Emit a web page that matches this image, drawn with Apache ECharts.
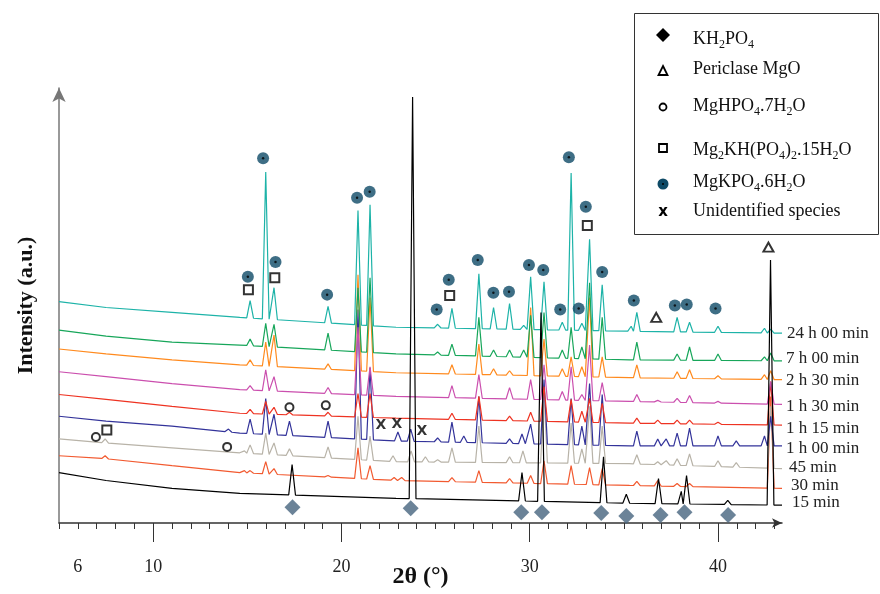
<!DOCTYPE html>
<html>
<head>
<meta charset="utf-8">
<script src="https://cdn.jsdelivr.net/npm/echarts@6/dist/echarts.min.js"></script>
<style>
	html, body { margin: 0; padding: 0; background: #fff; }
	#main { width: 880px; height: 594px; }
</style>
</head>
<body>
<div id="main"></div>
<script>
// sample names, top pattern first
var sampleNames = ['24 h 00 min', '7 h 00 min', '2 h 30 min', '1 h 30 min', '1 h 15 min', '1 h 00 min', '45 min', '30 min', '15 min'];

// baselines [2theta, intensity a.u.]
var base24h = [[5, 224], [7.5, 218], [11, 213], [14.6, 208], [22.9, 198], [35.3, 194], [43.4, 192]];
var base7h = [[5, 195], [7.5, 189], [11, 183], [14.6, 180], [22.9, 171], [35.3, 165], [43.4, 164]];
var base2h30 = [[5, 176], [7.5, 171], [11, 165], [14.6, 160], [22.9, 152], [35.3, 147], [43.4, 145]];
var base1h30 = [[5, 153], [7.5, 148], [11, 141], [14.6, 135], [22.9, 128], [35.3, 123], [43.4, 120]];
var base1h15 = [[5, 130], [7.5, 125], [11, 118], [14.6, 111], [22.9, 106], [35.3, 101], [43.4, 99]];
var base1h00 = [[5, 108], [7.5, 103], [11, 98], [14.6, 91], [22.9, 83], [35.3, 78], [43.4, 78]];
var base45 = [[5, 85], [7.5, 81], [11, 76], [14.6, 71], [22.9, 62], [35.3, 60], [43.4, 55]];
var base30 = [[5, 68], [7.5, 65], [11, 58], [14.6, 51], [22.9, 43], [35.3, 38], [43.4, 35]];
var base15 = [[5, 51], [7.5, 43], [11, 35], [14.6, 30], [22.9, 25], [35.3, 20], [43.4, 18]];

// peak tops [2theta, intensity a.u.]
var peaks24h = [[15.15, 225], [15.98, 355], [16.42, 238], [19.29, 219], [20.88, 316], [21.52, 322], [25.11, 201], [25.87, 217],
	[27.3, 252], [28.08, 218], [28.93, 222], [29.68, 200], [30.05, 249], [30.76, 244], [31.73, 203], [32.2, 354], [32.77, 202],
	[33.18, 287], [33.85, 241], [35.39, 199], [35.69, 213], [37.83, 208], [38.49, 203], [40.0, 199], [42.47, 197], [42.8, 196]];
var peaks7h = [[15.15, 186], [15.98, 202], [16.42, 201], [19.29, 192], [20.88, 238], [21.52, 248], [25.11, 173], [25.87, 181],
	[27.3, 208], [28.08, 175], [28.93, 175], [29.68, 175], [30.05, 210], [30.76, 213], [31.73, 175], [32.2, 198], [32.77, 178],
	[33.18, 243], [33.85, 208], [35.69, 183], [37.83, 171], [38.49, 178], [40.0, 171], [42.47, 168], [42.8, 172]];
var peaks2h30 = [[15.15, 165], [15.98, 183], [16.42, 190], [19.29, 161], [20.88, 251], [21.52, 228], [25.87, 160], [27.3, 181],
	[28.08, 156], [28.93, 154], [30.05, 218], [30.76, 186], [31.73, 156], [32.2, 168], [32.77, 158], [33.18, 228], [33.85, 168],
	[35.69, 160], [37.83, 153], [38.49, 155], [40.0, 149], [42.47, 150], [42.8, 154]];
var peaks1h30 = [[15.15, 139], [15.98, 155], [16.42, 148], [19.29, 137], [20.88, 198], [21.52, 158], [25.87, 139], [27.3, 150],
	[28.93, 137], [30.05, 145], [30.76, 160], [31.73, 133], [32.2, 158], [32.77, 130], [33.18, 180], [33.85, 142], [35.69, 130],
	[36.8, 124], [37.83, 126], [38.49, 129], [40.0, 123], [42.8, 143]];
var peaks1h15 = [[15.15, 115], [15.98, 123], [16.42, 117], [17.24, 112], [19.29, 112], [20.88, 131], [21.52, 131], [25.87, 111],
	[27.3, 128], [28.93, 108], [30.05, 112], [30.76, 138], [32.2, 125], [32.77, 113], [33.18, 126], [33.85, 121], [35.69, 106],
	[36.8, 104], [37.83, 104], [38.49, 104], [40.0, 102], [42.8, 143]];
var peaks1h00 = [[14.0, 95], [15.15, 105], [15.98, 126], [16.42, 110], [17.24, 103], [19.29, 103], [20.88, 216], [21.52, 157],
	[23.0, 92], [23.68, 95], [25.11, 86], [25.87, 102], [26.5, 88], [27.3, 128], [28.93, 85], [29.59, 90], [30.05, 100],
	[30.76, 145], [32.2, 126], [32.77, 98], [33.18, 141], [33.85, 130], [35.69, 93], [36.8, 85], [37.25, 85], [37.83, 91],
	[38.49, 96], [40.0, 88], [40.97, 83], [42.47, 88], [42.8, 108]];
var peaks45 = [[7.45, 85], [14.85, 73], [15.15, 79], [15.98, 91], [16.42, 81], [17.24, 75], [19.29, 77], [20.88, 108], [21.52, 88],
	[22.74, 68], [23.7, 73], [24.46, 67], [25.11, 64], [25.87, 76], [27.3, 98], [28.93, 67], [29.64, 73], [30.76, 131], [32.2, 101],
	[32.77, 75], [33.18, 118], [33.85, 98], [35.69, 69], [36.8, 62], [37.25, 63], [37.83, 65], [38.49, 70], [40.0, 63], [40.97, 61],
	[42.8, 118]];
var peaks30 = [[7.45, 68], [14.85, 53], [15.15, 53], [15.98, 62], [16.42, 55], [19.29, 48], [20.88, 76], [21.52, 58], [22.8, 46],
	[23.2, 46], [25.87, 46], [27.3, 53], [28.93, 45], [30.05, 48], [30.76, 63], [32.2, 58], [33.18, 56], [33.85, 55], [35.69, 42],
	[36.8, 43], [37.83, 40], [38.49, 40], [42.8, 128]];
var peaks15 = [[17.38, 59], [23.78, 431], [29.59, 51], [30.6, 213], [33.92, 67], [35.13, 29], [36.84, 45], [38.05, 32],
	[38.33, 48], [40.52, 23], [42.79, 266]];

// phase markers [2theta, intensity a.u.]
var markKH2PO4 = [[17.4, 16], [23.68, 15], [29.55, 11], [30.65, 11], [33.8, 10], [35.13, 7], [36.95, 8], [38.22, 11], [40.54, 8]];
var markMgO = [[36.72, 208], [42.68, 279]];
var markMgHPO4 = [[6.96, 87], [13.93, 77], [17.24, 117], [19.17, 119]];
var markMg2KH = [[7.54, 94], [15.06, 236], [16.46, 248], [25.75, 230], [33.06, 301]];
var markMKP = [[15.03, 249], [15.84, 369], [16.5, 264], [19.24, 231], [20.83, 329], [21.5, 335], [25.06, 216], [25.7, 246],
	[27.24, 266], [28.07, 233], [28.9, 234], [29.96, 261], [30.72, 256], [31.62, 216], [32.08, 370], [32.6, 217], [32.98, 320],
	[33.85, 254], [35.53, 225], [37.71, 220], [38.34, 221], [39.87, 217]];
var markUnknown = [[22.09, 99], [22.95, 100], [24.28, 93]];

var xLabelValues = [6, 10, 20, 30, 40];
var xMajorTicks = [10, 20, 30, 40];

var legendTexts = ['KH{s|2}PO{s|4}', 'Periclase MgO', 'MgHPO{s|4}.7H{s|2}O', 'Mg{s|2}KH(PO{s|4}){s|2}.15H{s|2}O', 'MgKPO{s|4}.6H{s|2}O', 'Unidentified species'];

var SERIF = '"Liberation Serif", "Times New Roman", serif';
var MKP_COLOR = '#0E4A66';
var HALF_WIDTH = 0.18;

var samples = [
	{ base: base24h, peaks: peaks24h, color: '#1DB3A8' },
	{ base: base7h, peaks: peaks7h, color: '#17A65A' },
	{ base: base2h30, peaks: peaks2h30, color: '#FF8A1E' },
	{ base: base1h30, peaks: peaks1h30, color: '#CB4FAE' },
	{ base: base1h15, peaks: peaks1h15, color: '#EE3322' },
	{ base: base1h00, peaks: peaks1h00, color: '#33339A' },
	{ base: base45, peaks: peaks45, color: '#B8B3A8' },
	{ base: base30, peaks: peaks30, color: '#F25A30' },
	{ base: base15, peaks: peaks15, color: '#000000' }
];

function baseAt(base, x) {
	for (var i = 0; i < base.length - 1; i++) {
		if (x <= base[i + 1][0]) {
			var t = (x - base[i][0]) / (base[i + 1][0] - base[i][0]);
			return base[i][1] + t * (base[i + 1][1] - base[i][1]);
		}
	}
	return base[base.length - 1][1];
}

// baseline + a narrow triangle under every peak top
function buildPattern(base, peaks) {
	var pts = base.filter(function (b) {
		return !peaks.some(function (p) { return Math.abs(p[0] - b[0]) < HALF_WIDTH; });
	}).map(function (b) { return [b[0], b[1]]; });
	peaks.forEach(function (p) {
		pts.push([p[0] - HALF_WIDTH, baseAt(base, p[0] - HALF_WIDTH)]);
		pts.push([p[0], p[1]]);
		pts.push([p[0] + HALF_WIDTH, baseAt(base, p[0] + HALF_WIDTH)]);
	});
	pts.sort(function (a, b) { return a[0] - b[0]; });
	return pts;
}

var minorTicks = [];
for (var t = 5; t <= 43; t++) minorTicks.push(t);

var series = [];
// draw lower patterns first, black pattern last (on top)
var drawOrder = [7, 6, 5, 4, 3, 2, 1, 0, 8];
drawOrder.forEach(function (idx) {
	var s = samples[idx];
	series.push({
		name: sampleNames[idx],
		type: 'line',
		data: buildPattern(s.base, s.peaks),
		showSymbol: false,
		symbol: 'none',
		lineStyle: { color: s.color, width: 1.2 },
		z: 2
	});
});

function markerSeries(data, opts) {
	return Object.assign({
		type: 'scatter',
		data: data,
		z: 5,
		silent: true
	}, opts);
}

series.push(markerSeries(markKH2PO4, { symbol: 'diamond', symbolSize: [16, 16], itemStyle: { color: '#46647E' } }));
series.push(markerSeries(markMgO, { symbol: 'triangle', symbolSize: [10, 9], itemStyle: { color: '#fff', borderColor: '#000', borderWidth: 2 } }));
series.push(markerSeries(markMgHPO4, { symbol: 'circle', symbolSize: 8, itemStyle: { color: '#fff', borderColor: '#000', borderWidth: 2 } }));
series.push(markerSeries(markMg2KH, { symbol: 'rect', symbolSize: 9, itemStyle: { color: '#fff', borderColor: '#000', borderWidth: 2 } }));
series.push(markerSeries(markMKP, { symbol: 'circle', symbolSize: 12, itemStyle: { color: MKP_COLOR } }));
series.push(markerSeries(markMKP, { symbol: 'circle', symbolSize: 2.5, itemStyle: { color: '#000' }, z: 6 }));
series.push(markerSeries(markUnknown, {
	symbol: 'circle', symbolSize: 1, itemStyle: { color: 'transparent' },
	label: { show: true, position: 'inside', formatter: 'X', fontFamily: '"DejaVu Sans", sans-serif', fontWeight: 'bold', fontSize: 14, color: '#000' }
}));

// sample labels on the right
var labelPos = [[787, 334], [786, 359], [786, 381], [786, 407], [786, 429], [786, 449], [789, 468], [791, 486], [792, 503]];
var graphics = sampleNames.map(function (n, i) {
	return {
		type: 'text', x: labelPos[i][0], y: labelPos[i][1], z: 10,
		style: { text: n, font: '17px ' + SERIF, fill: '#222', verticalAlign: 'middle' }
	};
});

// legend box
graphics.push({ type: 'rect', shape: { x: 634.5, y: 13.5, width: 244, height: 221 }, style: { fill: '#fff', stroke: '#333', lineWidth: 1 }, z: 8 });
var legendRowY = [39, 69, 106, 150, 182, 211];
var symX = 663;
graphics.push({ type: 'polygon', shape: { points: [[symX, 28], [symX + 7, 35], [symX, 42], [symX - 7, 35]] }, style: { fill: '#000' }, z: 9 });
graphics.push({ type: 'polygon', shape: { points: [[symX, 66], [symX + 4.5, 75], [symX - 4.5, 75]] }, style: { fill: '#fff', stroke: '#000', lineWidth: 1.8 }, z: 9 });
graphics.push({ type: 'circle', shape: { cx: symX, cy: 107, r: 3.5 }, style: { fill: '#fff', stroke: '#000', lineWidth: 1.8 }, z: 9 });
graphics.push({ type: 'rect', shape: { x: symX - 4, y: 144, width: 8, height: 8 }, style: { fill: '#fff', stroke: '#000', lineWidth: 1.8 }, z: 9 });
graphics.push({ type: 'circle', shape: { cx: symX, cy: 184, r: 5.5 }, style: { fill: MKP_COLOR }, z: 9 });
graphics.push({ type: 'circle', shape: { cx: symX, cy: 184, r: 1 }, style: { fill: '#000' }, z: 9 });
graphics.push({ type: 'text', x: symX, y: 212, z: 9, style: { text: 'x', font: 'bold 15px "DejaVu Sans", sans-serif', fill: '#000', align: 'center', verticalAlign: 'middle' } });
legendTexts.forEach(function (txt, i) {
	graphics.push({
		type: 'text', x: 693, y: legendRowY[i], z: 9,
		style: {
			text: txt, font: '18px ' + SERIF, fill: '#111', verticalAlign: 'middle', lineHeight: 24,
			rich: { s: { fontSize: 12, fontFamily: SERIF, lineHeight: 12, verticalAlign: 'bottom', fill: '#111' } }
		}
	});
});

var chart = echarts.init(document.getElementById('main'));
chart.setOption({
	animation: false,
	grid: [
		{ left: 59, right: 98, top: 88, bottom: 66 },
		{ left: 59, right: 98, top: 88, bottom: 66 }
	],
	xAxis: [{
		type: 'value', gridIndex: 0, min: 5, max: 43.4,
		axisLine: { show: true, lineStyle: { color: '#333', width: 1.5 }, symbol: ['none', 'arrow'], symbolSize: [7, 10] },
		axisTick: { show: true, length: 6, customValues: minorTicks, lineStyle: { color: '#333' } },
		axisLabel: { show: false },
		splitLine: { show: false },
		name: '2θ (°)', nameLocation: 'middle', nameGap: 42,
		nameTextStyle: { fontFamily: SERIF, fontWeight: 'bold', fontSize: 24, color: '#111' }
	}, {
		type: 'value', gridIndex: 1, min: 5, max: 43.4,
		axisLine: { show: false },
		axisTick: { show: true, length: 14, customValues: xMajorTicks, lineStyle: { color: '#333' } },
		axisLabel: { show: true, customValues: xLabelValues, margin: 30, fontFamily: SERIF, fontSize: 18, color: '#222' },
		splitLine: { show: false }
	}],
	yAxis: [{
		type: 'value', gridIndex: 0, min: 0, max: 440,
		axisLine: { show: true, lineStyle: { color: '#777', width: 1.5 }, symbol: ['none', 'arrow'], symbolSize: [10, 14] },
		axisTick: { show: false },
		axisLabel: { show: false },
		splitLine: { show: false },
		name: 'Intensity (a.u.)', nameLocation: 'middle', nameGap: 22,
		nameTextStyle: { fontFamily: SERIF, fontWeight: 'bold', fontSize: 22, color: '#111' }
	}, {
		type: 'value', gridIndex: 1, min: 0, max: 440, show: false
	}],
	series: series,
	graphic: graphics
});
</script>
</body>
</html>
